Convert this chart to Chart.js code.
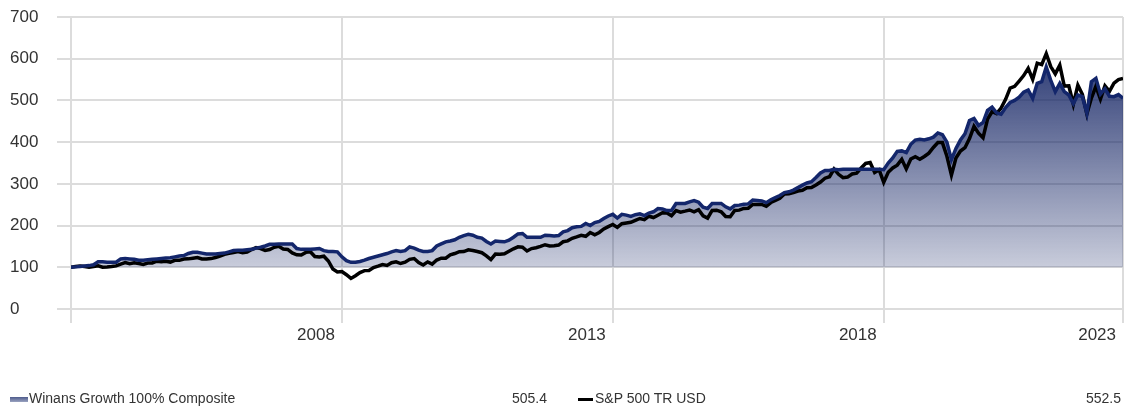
<!DOCTYPE html>
<html>
<head>
<meta charset="utf-8">
<title>Winans Growth 100% Composite vs S&amp;P 500 TR USD</title>
<script src="https://cdn.jsdelivr.net/npm/chart.js@4.4.1/dist/chart.umd.min.js"></script>
<style>
  body { margin: 0; background: #fff; }
  #wrap { position: relative; width: 1125px; height: 412px; }
  .lg { position: absolute; top: 390px; font: 14px "Liberation Sans", Arial, sans-serif; color: #333; line-height: 16px; white-space: nowrap; }
  .val { width: 100px; text-align: right; }
  .sw { position: absolute; }
</style>
</head>
<body>
<div id="wrap">
  <canvas id="growth" width="1125" height="412"></canvas>
</div>
<script>
// Growth of 100, monthly, Dec 2003 .. May 2023 (x = month index)
var winans = [
  100,
  101, 102, 103, 104, 106, 113, 113, 112, 112, 112, 120, 121,
  120, 119, 117, 117, 118, 119, 120, 121, 122, 123, 125, 127,
  128, 133, 136, 136, 134, 132, 132, 132, 133, 134, 137, 140,
  141, 141, 142, 143, 146, 148, 151, 155, 155, 156, 156, 156,
  156, 145, 143, 143, 143, 144, 145, 140, 138, 138, 137, 125,
  116, 112, 112, 114, 117, 121, 124, 127, 130, 133, 137, 140,
  138, 140, 149, 146, 141, 138, 138, 140, 151, 156, 161, 163,
  166, 172, 176, 179, 177, 172, 170, 162, 156, 163, 162, 161,
  165, 172, 180, 181, 172, 172, 172, 172, 177, 176, 175, 176,
  185, 188, 195, 197, 198, 205, 200, 207, 210, 217, 223, 227,
  218, 227, 225, 222, 226, 228, 224, 230, 233, 241, 240, 236,
  236, 253, 253, 253, 257, 260, 256, 244, 241, 253, 253, 253,
  245, 240, 248, 249, 251, 252, 261, 260, 259, 255, 262, 267,
  272, 279, 281, 285, 291, 297, 302, 305, 315, 326, 332, 332,
  335, 334, 335, 335, 335, 335, 335, 335, 335, 335, 335, 334,
  350, 362, 378, 379, 375, 395, 405, 407, 405, 408, 412, 422,
  418, 400, 358, 385, 405, 420, 452, 457, 440, 447, 476, 484,
  470, 467, 483, 495, 500, 508, 520, 525, 505, 541, 545, 580,
  548, 521, 541, 521, 513, 492, 513, 509, 469, 545, 553, 515,
  528, 510, 509, 514, 505.4
];

var sp500 = [
  100,
  101.9, 103.3, 101.8, 100.3, 101.6, 103.6, 100.3, 100.6, 101.8, 103.3, 107.5, 111.2,
  108.5, 110.8, 108.9, 106.8, 110.2, 110.3, 114.5, 113.3, 114.4, 112.5, 116.6, 116.7,
  119.9, 120.2, 121.7, 123.4, 119.8, 120.0, 120.8, 123.6, 126.8, 131.1, 133.4, 135.3,
  137.5, 134.7, 136.2, 142.4, 147.3, 144.9, 140.4, 142.5, 147.9, 150.3, 143.9, 142.8,
  134.4, 130.0, 129.4, 135.7, 137.4, 125.8, 124.7, 126.6, 115.1, 95.8, 88.8, 89.6,
  82.2, 73.2, 79.7, 87.2, 92.0, 92.1, 99.2, 102.7, 106.6, 104.5, 110.8, 112.9,
  109.0, 112.2, 119.0, 120.9, 111.1, 105.4, 112.9, 107.6, 117.3, 121.8, 121.7, 129.8,
  133.0, 137.5, 137.6, 141.8, 140.1, 137.8, 134.9, 127.5, 118.5, 131.5, 131.1, 132.4,
  138.4, 144.3, 149.0, 148.2, 139.1, 144.9, 146.9, 150.2, 154.1, 151.3, 151.9, 153.2,
  161.2, 163.3, 169.5, 172.9, 176.8, 174.3, 183.3, 177.9, 183.5, 192.0, 197.6, 202.6,
  195.7, 204.5, 206.2, 207.9, 212.6, 217.0, 214.2, 222.4, 219.3, 224.9, 230.8, 230.2,
  223.4, 236.1, 232.3, 234.7, 237.4, 232.8, 238.0, 223.4, 217.9, 236.4, 236.9, 233.1,
  221.6, 221.0, 236.1, 237.0, 241.0, 241.7, 250.6, 250.7, 250.8, 246.3, 255.2, 260.5,
  265.6, 275.9, 276.3, 279.1, 282.8, 284.6, 290.5, 291.2, 297.4, 304.5, 313.6, 317.2,
  335.5, 322.9, 314.9, 316.2, 323.6, 325.6, 338.0, 349.0, 351.0, 327.1, 333.6, 303.5,
  327.8, 338.0, 344.9, 358.9, 335.9, 359.6, 365.0, 358.9, 365.7, 373.7, 387.3, 399.0,
  398.9, 366.0, 320.9, 361.9, 378.8, 386.7, 408.6, 437.8, 421.3, 410.5, 455.3, 472.9,
  468.3, 481.5, 502.7, 529.8, 533.9, 546.5, 559.6, 577.1, 550.5, 589.3, 585.7, 612.0,
  581.1, 563.6, 584.6, 534.4, 535.1, 490.9, 536.7, 514.7, 467.6, 505.6, 533.8, 503.1,
  535.2, 521.9, 541.3, 550.0, 552.5
];

// x ticks: month index of each gridline and its label
var xTickPos = [0, 60, 120, 180, 233];
var xTickLabels = ['', '2008', '2013', '2018', '2023'];
var yTicks = [0, 100, 200, 300, 400, 500, 600, 700];

var seriesNames = ['Winans Growth 100% Composite', 'S&P 500 TR USD'];
var seriesEnd = ['505.4', '552.5'];

var navy = '#13266b';
var tickFont = { family: '"Liberation Sans", Arial, sans-serif', size: 17 };
var gridOpts = { color: '#dcdcdc', lineWidth: 2, tickLength: 14 };

function toPoints(arr) {
    return arr.map(function (v, i) { return { x: i, y: v }; });
}

function areaFill(context) {
    var chart = context.chart;
    var area = chart.chartArea;
    if (!area) return 'rgba(20,36,100,0.4)';
    var y = chart.scales.y;
    var g = chart.ctx.createLinearGradient(0, y.getPixelForValue(100), 0, y.getPixelForValue(580));
    g.addColorStop(0, 'rgba(20,36,100,0.23)');
    g.addColorStop(1, 'rgba(20,36,100,0.86)');
    return g;
}

var growthChart = new Chart(document.getElementById('growth'), {
    type: 'line',
    data: {
        datasets: [{
            label: seriesNames[0],
            data: toPoints(winans),
            borderColor: navy,
            borderWidth: 3.5,
            pointRadius: 0,
            fill: { value: 100 },
            backgroundColor: areaFill
        }, {
            label: seriesNames[1],
            data: toPoints(sp500),
            borderColor: '#000',
            borderWidth: 3.5,
            pointRadius: 0,
            fill: false
        }]
    },
    options: {
        responsive: false,
        animation: false,
        layout: { padding: { left: 10, right: 2, top: 17, bottom: 0 } },
        plugins: {
            legend: { display: false },
            tooltip: { enabled: false },
            filler: { drawTime: 'beforeDatasetsDraw' }
        },
        scales: {
            x: {
                type: 'linear',
                min: 0,
                max: 233,
                afterBuildTicks: function (s) { s.ticks = xTickPos.map(function (v) { return { value: v }; }); },
                afterFit: function (s) { s.height = 103; },
                ticks: {
                    autoSkip: false,
                    maxRotation: 0,
                    align: 'end',
                    labelOffset: -7,
                    padding: 2,
                    color: '#333',
                    font: tickFont,
                    callback: function (v, i) { return xTickLabels[i]; }
                },
                grid: gridOpts,
                border: { display: false }
            },
            y: {
                min: 0,
                max: 700,
                afterBuildTicks: function (s) { s.ticks = yTicks.map(function (v) { return { value: v }; }); },
                afterFit: function (s) { s.width = 61; },
                ticks: {
                    crossAlign: 'far',
                    color: '#333',
                    font: tickFont
                },
                grid: gridOpts,
                border: { display: false }
            }
        }
    }
});

// legend row under the chart
var wrap = document.getElementById('wrap');
function addEl(cls, css, text) {
    var d = document.createElement('div');
    d.className = cls;
    d.style.cssText = css;
    if (text) d.textContent = text;
    wrap.appendChild(d);
}
addEl('sw', 'left:10px;top:397px;width:18px;height:5px;background:linear-gradient(#4e5b8c,#9aa3c0);');
addEl('lg', 'left:29px;', seriesNames[0]);
addEl('lg val', 'left:447px;', seriesEnd[0]);
addEl('sw', 'left:578px;top:398px;width:15px;height:3px;background:#000;');
addEl('lg', 'left:595px;', seriesNames[1]);
addEl('lg val', 'left:1021px;', seriesEnd[1]);
</script>
</body>
</html>
